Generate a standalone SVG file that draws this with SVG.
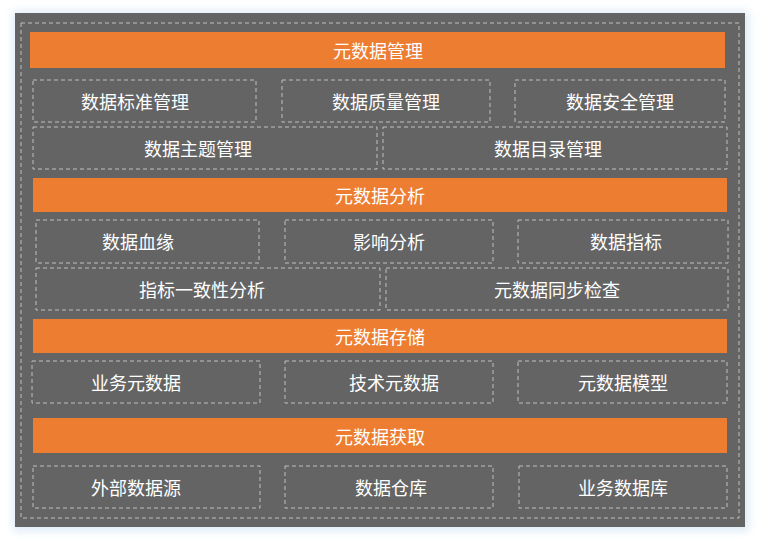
<svg xmlns="http://www.w3.org/2000/svg" width="760" height="540" viewBox="0 0 760 540">
<defs><filter id="sh" x="-5%" y="-5%" width="110%" height="110%"><feGaussianBlur stdDeviation="4"/></filter></defs>
<style>
.bar{fill:#ED7D31}
.box{fill:none;stroke:#BFBFBF;stroke-width:1;stroke-dasharray:4 3}
text{font-family:"Noto Sans CJK SC","Liberation Sans",sans-serif;font-size:18px;fill:#fff;text-anchor:middle;dominant-baseline:central}
</style>
<rect x="0" y="0" width="760" height="540" fill="#fff"/>
<rect x="13" y="11" width="736" height="520" fill="#BDD7EE" opacity="0.5" filter="url(#sh)"/>
<rect x="15" y="13" width="730" height="514" fill="#646464"/>
<rect x="21" y="23" width="718" height="495" class="box"/>
<g id="g1"><rect class="bar" x="30" y="32" width="695" height="36"/><text x="378" y="50">元数据管理</text></g>
<g id="n1"><rect class="box" x="33" y="80" width="223" height="42"/><text x="135" y="101">数据标准管理</text></g>
<g id="n2"><rect class="box" x="282" y="80" width="208" height="42"/><text x="386" y="101">数据质量管理</text></g>
<g id="n3"><rect class="box" x="515" y="80" width="210" height="42"/><text x="620" y="101">数据安全管理</text></g>
<g id="n4"><rect class="box" x="33" y="127" width="344" height="42"/><text x="198" y="148">数据主题管理</text></g>
<g id="n5"><rect class="box" x="383" y="127" width="344" height="42"/><text x="548" y="148">数据目录管理</text></g>
<g id="g2"><rect class="bar" x="33" y="178" width="694" height="34"/><text x="380" y="195">元数据分析</text></g>
<g id="n6"><rect class="box" x="36" y="220" width="223" height="43"/><text x="138" y="241">数据血缘</text></g>
<g id="n7"><rect class="box" x="285" y="220" width="208" height="43"/><text x="389" y="241">影响分析</text></g>
<g id="n8"><rect class="box" x="518" y="220" width="210" height="43"/><text x="626" y="241">数据指标</text></g>
<g id="n9"><rect class="box" x="36" y="268" width="344" height="42"/><text x="202" y="289">指标一致性分析</text></g>
<g id="n10"><rect class="box" x="386" y="268" width="342" height="42"/><text x="557" y="289">元数据同步检查</text></g>
<g id="g3"><rect class="bar" x="33" y="319" width="694" height="34"/><text x="380" y="336">元数据存储</text></g>
<g id="n11"><rect class="box" x="32" y="361" width="228" height="42"/><text x="136" y="382">业务元数据</text></g>
<g id="n12"><rect class="box" x="285" y="361" width="208" height="42"/><text x="394" y="382">技术元数据</text></g>
<g id="n13"><rect class="box" x="518" y="361" width="209" height="42"/><text x="623" y="382">元数据模型</text></g>
<g id="g4"><rect class="bar" x="33" y="418" width="694" height="35"/><text x="380" y="436">元数据获取</text></g>
<g id="n14"><rect class="box" x="33" y="466" width="227" height="42"/><text x="136" y="487">外部数据源</text></g>
<g id="n15"><rect class="box" x="285" y="466" width="208" height="42"/><text x="391" y="487">数据仓库</text></g>
<g id="n16"><rect class="box" x="519" y="466" width="208" height="42"/><text x="623" y="487">业务数据库</text></g>
<g id="connectors"/>
</svg>
